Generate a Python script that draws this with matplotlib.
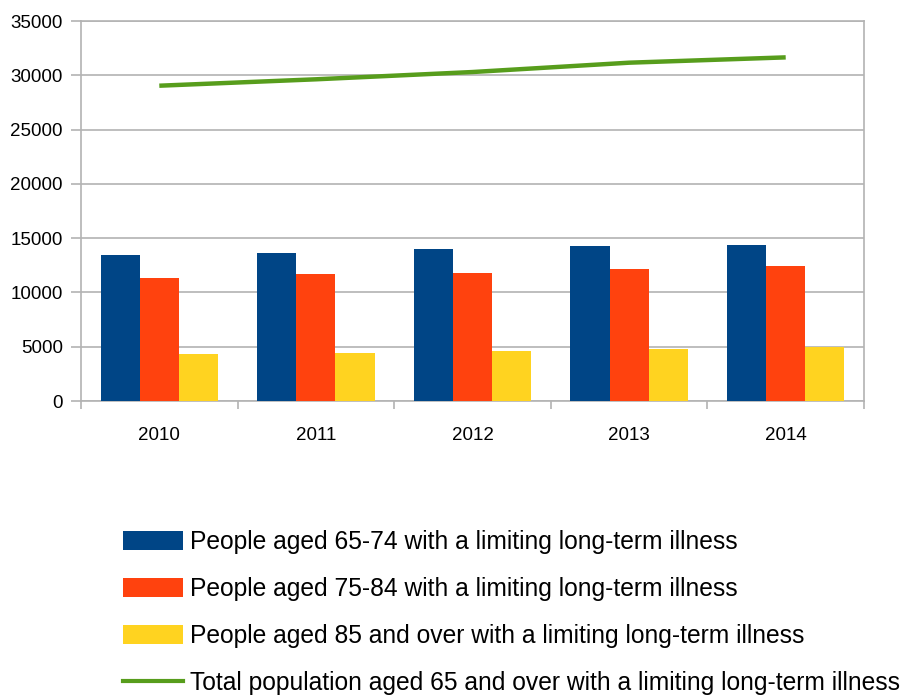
import matplotlib
matplotlib.use("Agg")
import matplotlib.pyplot as plt
import numpy as np
from matplotlib.patches import Patch
from matplotlib.lines import Line2D

plt.rcParams['font.family'] = ['Liberation Sans', 'DejaVu Sans']

years = ["2010", "2011", "2012", "2013", "2014"]
aged_65_74 = [13450, 13630, 14000, 14280, 14370]
aged_75_84 = [11330, 11730, 11790, 12160, 12430]
aged_85_plus = [4330, 4420, 4610, 4790, 4970]
total_65_plus = [29040, 29630, 30300, 31160, 31650]

series_labels = [
    "People aged 65-74 with a limiting long-term illness",
    "People aged 75-84 with a limiting long-term illness",
    "People aged 85 and over with a limiting long-term illness",
    "Total population aged 65 and over with a limiting long-term illness",
]
colors = ["#004586", "#ff420e", "#ffd320", "#579d1c"]
grid_gray = "#b3b3b3"

fig = plt.figure(figsize=(9.04, 6.95), dpi=100)
ax = fig.add_axes([81 / 904, 1 - 401 / 695, (864 - 81) / 904, (401 - 21) / 695])

x = np.arange(len(years))
width = 0.25
ax.bar(x - width, aged_65_74, width, color=colors[0], zorder=3)
ax.bar(x, aged_75_84, width, color=colors[1], zorder=3)
ax.bar(x + width, aged_85_plus, width, color=colors[2], zorder=3)
ax.plot(x, total_65_plus, color=colors[3], linewidth=3.2, zorder=4,
        solid_capstyle='butt')

ax.set_xlim(-0.5, len(years) - 0.5)
ax.set_ylim(0, 35000)
ax.set_yticks(np.arange(0, 35001, 5000))
ax.yaxis.grid(True, color=grid_gray, linewidth=1.2, zorder=0)
ax.set_axisbelow(True)

ax.set_xticks(x)
ax.set_xticklabels(years)
ax.set_xticks(np.arange(-0.5, len(years), 1.0), minor=True)
ax.tick_params(axis='x', which='major', length=0, pad=19, labelsize=13.5)
ax.tick_params(axis='x', which='minor', length=6, width=1.2, color=grid_gray)
ax.tick_params(axis='y', length=7, width=1.2, color=grid_gray, pad=6, labelsize=13.5)

for side in ["left", "right", "bottom", "top"]:
    ax.spines[side].set_color(grid_gray)
    ax.spines[side].set_linewidth(1.2)

handles = [
    Patch(facecolor=colors[0], edgecolor='none'),
    Patch(facecolor=colors[1], edgecolor='none'),
    Patch(facecolor=colors[2], edgecolor='none'),
    Line2D([0], [0], color=colors[3], linewidth=3),
]
fig.legend(handles, series_labels, loc='upper left',
           bbox_to_anchor=(123 / 904, 1 - 530 / 695),
           frameon=False, fontsize=17.75, borderpad=0, borderaxespad=0,
           handlelength=2.43, handleheight=0.8, handletextpad=0.3,
           labelspacing=0.93)

fig.savefig("out.png", dpi=100)
